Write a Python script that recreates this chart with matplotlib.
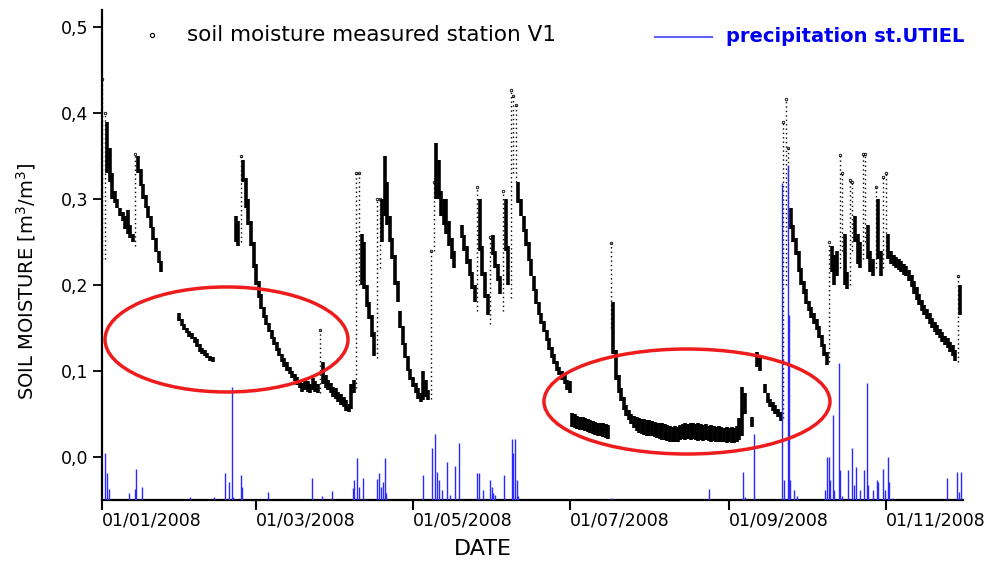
import numpy as np
import matplotlib
matplotlib.use("Agg")
import matplotlib.pyplot as plt
import matplotlib.dates as mdates
from matplotlib.patches import Ellipse

N = None
start_date = "2008-01-01"

# daily lower / upper envelope of soil moisture readings (m3/m3), station V1
sm_lo = [
    0.23, 0.23, 0.33, 0.32, 0.30, 0.295, 0.29, 0.28, 0.275, 0.265,
    0.26, 0.255, 0.25, 0.245, 0.33, 0.315, 0.30, 0.29, 0.278, 0.266,
    0.252, 0.238, 0.226, 0.215, N, N, N, N, N, N,
    0.158, 0.152, 0.148, 0.144, 0.14, 0.137, 0.133, 0.128, 0.122, 0.12,
    0.117, 0.115, 0.112, 0.11, N, N, N, N, N, N,
    N, N, 0.25, 0.245, 0.25, 0.32, 0.29, 0.27, 0.245, 0.22,
    0.20, 0.185, 0.172, 0.162, 0.153, 0.145, 0.137, 0.13, 0.123, 0.117,
    0.11, 0.105, 0.10, 0.096, 0.092, 0.088, 0.084, 0.08, 0.076, 0.078,
    0.076, 0.075, 0.078, 0.076, 0.074, 0.075, 0.085, 0.08, 0.078, 0.074,
    0.07, 0.067, 0.064, 0.06, 0.058, 0.054, 0.052, 0.056, 0.075, 0.08,
    0.20, 0.20, 0.195, 0.175, 0.16, 0.14, 0.118, 0.115, 0.22, 0.25,
    0.28, 0.27, 0.25, 0.23, 0.20, 0.18, 0.15, 0.13, 0.115, 0.10,
    0.09, 0.082, 0.075, 0.068, 0.064, 0.066, 0.07, 0.066, 0.068, 0.24,
    0.30, 0.30, 0.28, 0.27, 0.26, 0.245, 0.23, 0.22, N, N,
    0.255, 0.24, 0.225, 0.21, 0.195, 0.18, 0.17, 0.24, 0.21, 0.185,
    0.165, 0.155, 0.235, 0.22, 0.205, 0.19, 0.17, 0.24, 0.20, 0.185,
    0.33, 0.32, 0.295, 0.28, 0.262, 0.245, 0.228, 0.21, 0.193, 0.178,
    0.165, 0.155, 0.145, 0.135, 0.125, 0.115, 0.108, 0.10, 0.095, 0.09,
    0.085, 0.078, 0.075, 0.035, 0.034, 0.033, 0.032, 0.031, 0.03, 0.029,
    0.028, 0.027, 0.026, 0.025, 0.024, 0.023, 0.022, 0.021, 0.15, 0.12,
    0.09, 0.075, 0.065, 0.055, 0.048, 0.043, 0.038, 0.034, 0.03, 0.028,
    0.027, 0.026, 0.025, 0.024, 0.024, 0.023, 0.022, 0.021, 0.02, 0.02,
    0.019, 0.018, 0.017, 0.018, 0.017, 0.02, 0.021, 0.02, 0.021, 0.02,
    0.021, 0.02, 0.019, 0.02, 0.019, 0.02, 0.019, 0.018, 0.019, 0.018,
    0.017, 0.018, 0.017, 0.016, 0.017, 0.016, 0.016, 0.018, 0.02, 0.025,
    0.05, N, N, 0.035, N, 0.105, 0.10, N, 0.075, 0.063,
    0.058, 0.054, 0.05, 0.046, 0.042, 0.045, 0.20, 0.28, 0.265, 0.25,
    0.235, 0.215, 0.20, 0.19, 0.178, 0.17, 0.162, 0.155, 0.148, 0.138,
    0.128, 0.117, 0.107, 0.11, 0.215, 0.20, 0.21, 0.22, 0.24, 0.20,
    0.195, 0.20, 0.24, 0.25, 0.225, 0.22, 0.23, 0.25, 0.23, 0.215,
    0.21, 0.22, 0.23, 0.21, 0.22, 0.24, 0.23, 0.225, 0.222, 0.22,
    0.218, 0.215, 0.212, 0.21, 0.205, 0.198, 0.19, 0.183, 0.177, 0.17,
    0.165, 0.16, 0.155, 0.15, 0.146, 0.142, 0.138, 0.134, 0.13, 0.127,
    0.122, 0.117, 0.112, 0.11, 0.165,
]
sm_hi = [
    0.44, 0.40, 0.39, 0.36, 0.33, 0.31, 0.30, 0.29, 0.285, 0.28,
    0.287, 0.27, 0.26, 0.353, 0.35, 0.335, 0.318, 0.305, 0.292, 0.28,
    0.268, 0.255, 0.24, 0.228, N, N, N, N, N, N,
    0.167, 0.16, 0.155, 0.15, 0.147, 0.144, 0.14, 0.137, 0.132, 0.127,
    0.124, 0.121, 0.118, 0.116, N, N, N, N, N, N,
    N, N, 0.28, 0.275, 0.35, 0.345, 0.325, 0.30, 0.275, 0.25,
    0.225, 0.205, 0.19, 0.175, 0.165, 0.156, 0.148, 0.14, 0.134, 0.127,
    0.12, 0.115, 0.11, 0.105, 0.10, 0.097, 0.093, 0.09, 0.086, 0.09,
    0.088, 0.085, 0.092, 0.088, 0.085, 0.148, 0.11, 0.095, 0.09, 0.086,
    0.082, 0.08, 0.076, 0.073, 0.07, 0.066, 0.062, 0.085, 0.09, 0.33,
    0.33, 0.26, 0.25, 0.20, 0.18, 0.165, 0.145, 0.30, 0.30, 0.30,
    0.35, 0.32, 0.28, 0.255, 0.235, 0.205, 0.17, 0.152, 0.133, 0.117,
    0.102, 0.093, 0.086, 0.08, 0.074, 0.10, 0.09, 0.078, 0.24, 0.32,
    0.365, 0.345, 0.31, 0.30, 0.30, 0.275, 0.255, 0.24, N, N,
    0.27, 0.258, 0.245, 0.23, 0.215, 0.20, 0.314, 0.30, 0.245, 0.215,
    0.19, 0.256, 0.258, 0.24, 0.225, 0.21, 0.31, 0.30, 0.245, 0.427,
    0.42, 0.41, 0.32, 0.30, 0.28, 0.265, 0.25, 0.23, 0.21, 0.195,
    0.18, 0.168, 0.158, 0.148, 0.138, 0.128, 0.12, 0.112, 0.105, 0.10,
    0.095, 0.09, 0.088, 0.051, 0.05, 0.048, 0.047, 0.046, 0.045, 0.044,
    0.043, 0.042, 0.041, 0.04, 0.04, 0.039, 0.038, 0.037, 0.249, 0.18,
    0.125, 0.095, 0.08, 0.07, 0.06, 0.055, 0.05, 0.048, 0.046, 0.045,
    0.044, 0.044, 0.043, 0.043, 0.042, 0.041, 0.04, 0.04, 0.039, 0.038,
    0.037, 0.036, 0.035, 0.036, 0.035, 0.037, 0.038, 0.039, 0.038, 0.039,
    0.04, 0.038, 0.039, 0.038, 0.037, 0.038, 0.036, 0.037, 0.036, 0.035,
    0.036, 0.035, 0.034, 0.035, 0.034, 0.035, 0.034, 0.036, 0.045, 0.081,
    0.075, N, N, 0.046, N, 0.122, 0.115, N, 0.085, 0.075,
    0.068, 0.064, 0.06, 0.056, 0.052, 0.39, 0.417, 0.36, 0.29, 0.27,
    0.255, 0.24, 0.22, 0.205, 0.195, 0.182, 0.175, 0.167, 0.16, 0.152,
    0.142, 0.132, 0.122, 0.25, 0.245, 0.235, 0.24, 0.351, 0.33, 0.26,
    0.215, 0.322, 0.32, 0.28, 0.26, 0.25, 0.353, 0.353, 0.27, 0.24,
    0.23, 0.314, 0.30, 0.24, 0.326, 0.33, 0.26, 0.24, 0.235, 0.233,
    0.23, 0.228, 0.225, 0.222, 0.218, 0.212, 0.205, 0.198, 0.19, 0.183,
    0.177, 0.172, 0.167, 0.162, 0.157, 0.153, 0.149, 0.145, 0.141, 0.138,
    0.134, 0.13, 0.125, 0.21, 0.20,
]

# precipitation at station UTIEL: day offset from 1 Jan 2008, amount (mm)
precip_day = [1.3, 2.0, 2.7, 10.6, 12.8, 13.2, 15.4, 34.2, 43.6, 47.9, 49.5, 50.5,
              51.0, 54.1, 54.6, 64.5, 81.6, 85.5, 89.6, 97.5, 98.0, 99.1, 100.0,
              101.4, 106.9, 107.8, 108.5, 109.4, 110.1, 110.6, 124.8, 128.5, 129.6,
              130.5, 131.0, 132.3, 134.1, 135.5, 137.4, 138.8, 145.8, 146.8, 148.4,
              151.0, 151.6, 152.3, 153.0, 156.5, 159.5, 160.0, 160.7, 161.3, 162.0,
              198.0, 236.0, 249.5, 250.2, 253.7, 264.7, 265.3, 266.8, 267.3, 267.8,
              269.4, 270.5, 281.3, 282.0, 282.7, 283.3, 284.3, 285.0, 286.8, 287.3,
              288.0, 290.2, 291.7, 292.5, 293.4, 295.0, 296.5, 297.5, 298.2, 300.0,
              301.4, 302.0, 304.0, 304.8, 305.7, 306.3, 307.5, 328.7, 332.8, 333.5,
              334.1]
precip_mm = [4.8, 2.8, 1.1, 0.7, 1.1, 3.2, 1.3, 0.3, 0.3, 2.8, 1.8, 11.5,
             0.3, 2.6, 1.3, 0.8, 2.2, 0.4, 0.9, 1.2, 2.0, 4.3, 1.3,
             2.2, 2.1, 2.8, 1.3, 1.8, 4.3, 0.7, 2.6, 5.3, 6.7,
             2.9, 2.0, 1.0, 3.9, 0.5, 3.5, 5.8, 2.8, 2.8, 1.0,
             2.0, 1.3, 0.7, 0.5, 2.6, 6.2, 4.8, 6.2, 2.0, 0.4,
             0.2, 1.1, 2.9, 0.3, 6.7, 32.3, 2.0, 34.2, 18.9, 2.0,
             1.0, 0.4, 1.0, 4.4, 4.4, 2.0, 8.7, 1.0, 14.0, 3.1,
             0.4, 3.1, 5.3, 1.5, 3.4, 1.0, 3.1, 11.9, 1.5, 1.0,
             2.0, 1.8, 3.2, 1.0, 4.4, 1.8, 0.2, 2.2, 2.9, 0.8,
             2.9]

tick_dates = ["2008-01-01", "2008-03-01", "2008-05-01", "2008-07-01",
              "2008-09-01", "2008-11-01"]
tick_labels = ["01/01/2008", "01/03/2008", "01/05/2008", "01/07/2008",
               "01/09/2008", "01/11/2008"]
ytick_vals = [0.0, 0.1, 0.2, 0.3, 0.4, 0.5]
ytick_labels = ["0,0", "0,1", "0,2", "0,3", "0,4", "0,5"]

plt.rcParams["font.family"] = ["DejaVu Sans"]

t0 = mdates.date2num(np.datetime64(start_date))
days = np.arange(len(sm_lo))
x = t0 + days
lo = np.array([np.nan if v is None else v for v in sm_lo], dtype=float)
hi = np.array([np.nan if v is None else v for v in sm_hi], dtype=float)
ok = ~np.isnan(lo)
big = np.zeros_like(ok)
big[ok] = (hi[ok] - lo[ok]) > 0.07
dense = ok & ~big

fig = plt.figure(figsize=(9.89, 5.61), dpi=100)
fig.patch.set_facecolor("white")
ax = fig.add_axes([102 / 989, 61 / 561, 861 / 989, 490 / 561])

# dense drying curves: daily range of readings
ax.vlines(x[dense], lo[dense], hi[dense], color="black", lw=2.6, zorder=3)
# rapid wetting jumps: sparse readings
ax.vlines(x[big], lo[big], hi[big], color="black", lw=1.0,
          linestyles=(0, (1.0, 2.2)), zorder=3)
ax.plot(x[big], hi[big], "o", ms=1.8, mfc="none", mec="black", mew=0.6, zorder=3)

ax.set_xlim(t0, t0 + 335)
ax.set_ylim(-0.05, 0.52)

ax2 = ax.twinx()
ax2.vlines(t0 + np.array(precip_day), 0, precip_mm, color="#2a2aff", lw=1.0)
ax2.set_ylim(0, 50)
ax2.set_axis_off()

ax.set_xticks([mdates.date2num(np.datetime64(d)) for d in tick_dates])
ax.set_xticklabels(tick_labels, ha="left")
ax.set_yticks(ytick_vals)
ax.set_yticklabels(ytick_labels)
ax.tick_params(axis="x", length=7, width=1.5, pad=1.5, labelsize=12.5, direction="out")
ax.tick_params(axis="y", length=6.5, width=1.3, pad=3.5, labelsize=12.5, direction="out")
ax.minorticks_off()

for s in ["top", "right"]:
    ax.spines[s].set_visible(False)
for s in ["left", "bottom"]:
    ax.spines[s].set_linewidth(1.6)

ax.set_ylabel("SOIL MOISTURE [m$^3$/m$^3$]", fontsize=14)
ax.yaxis.set_label_coords(-0.074, 0.446)
ax.set_xlabel("DATE", fontsize=16)
ax.xaxis.set_label_coords(0.442, -0.0796)

# legend drawn by hand
ax.plot([0.0581], [0.949], "o", ms=3, mfc="none", mec="black", mew=0.8,
        transform=ax.transAxes, clip_on=False)
ax.text(0.0987, 0.949, "soil moisture measured station V1", fontsize=15.5,
        va="center", ha="left", transform=ax.transAxes)
ax.plot([0.6423, 0.7085], [0.945, 0.945], color="#6060ff", lw=1.5,
        transform=ax.transAxes, clip_on=False)
ax.text(0.7247, 0.945, "precipitation st.UTIEL", fontsize=14, fontweight="bold",
        color="#0000ee", va="center", ha="left", transform=ax.transAxes)

# red ellipses highlighting the periods of interest
for cx, cy, w, h in [(0.1446, 0.3276, 0.2822, 0.2143), (0.6794, 0.201, 0.3322, 0.2143)]:
    ax2.add_patch(Ellipse((cx, cy), w, h, transform=ax.transAxes, fill=False,
                          ec="#ee1c1c", lw=2.5, zorder=5, clip_on=False))

fig.savefig("out.png", dpi=100, facecolor="white")
